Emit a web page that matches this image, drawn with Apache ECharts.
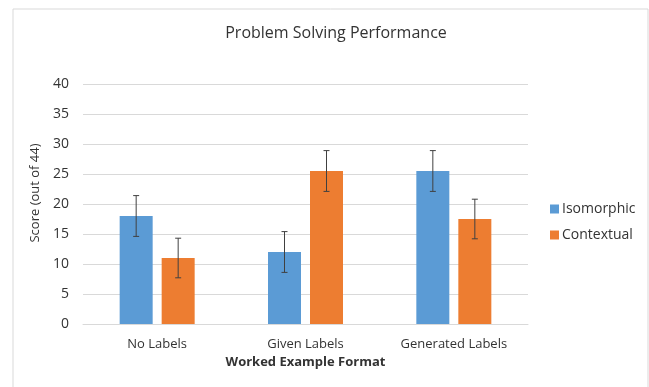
<!DOCTYPE html>
<html>
<head>
<meta charset="utf-8">
<script src="https://cdn.jsdelivr.net/npm/echarts@6/dist/echarts.min.js"></script>
<style>
  html, body { margin: 0; padding: 0; background: #fff; }
  #chart { width: 649px; height: 387px; }
</style>
</head>
<body>
<div id="chart"></div>
<script>
// data
var categories = ['No Labels', 'Given Labels', 'Generated Labels'];
var isomorphic = [18, 12, 25.5];
var contextual = [11, 25.5, 17.5];
var isoErr = [3.4, 3.4, 3.4];
var ctxErr = [3.3, 3.4, 3.3];
var yTicks = [0, 5, 10, 15, 20, 25, 30, 35, 40];

var BAR_W = 33, BAR_GAP = 9;
var font = '"Open Sans", "Noto Sans", sans-serif';
var txt = '#333333';

function errorSeries(vals, errs, side) {
    // side -1 = left bar, +1 = right bar
    var data = vals.map(function (v, i) { return [i, v - errs[i], v + errs[i]]; });
    return {
        type: 'custom',
        silent: true,
        z: 10,
        data: data,
        renderItem: function (params, api) {
            var i = api.value(0);
            var lo = api.coord([i, api.value(1)]);
            var hi = api.coord([i, api.value(2)]);
            var x = lo[0] + side * (BAR_W + BAR_GAP) / 2;
            var cap = 3;
            var st = { stroke: '#404040', lineWidth: 1 };
            return {
                type: 'group',
                children: [
                    { type: 'line', shape: { x1: x, y1: hi[1], x2: x, y2: lo[1] }, style: st },
                    { type: 'line', shape: { x1: x - cap, y1: hi[1], x2: x + cap, y2: hi[1] }, style: st },
                    { type: 'line', shape: { x1: x - cap, y1: lo[1], x2: x + cap, y2: lo[1] }, style: st }
                ]
            };
        }
    };
}

var chart = echarts.init(document.getElementById('chart'));
var option = {
    animation: false,
    textStyle: { fontFamily: font },
    title: {
        text: 'Problem Solving Performance',
        left: 331,
        textAlign: 'center',
        top: 20,
        textStyle: { fontFamily: font, fontSize: 16, fontWeight: 'normal', color: txt }
    },
    graphic: [{
        type: 'rect',
        z: -1,
        shape: { x: 13, y: 9, width: 635, height: 400 },
        style: { fill: 'none', stroke: '#d9d9d9', lineWidth: 1 }
    }],
    legend: {
        orient: 'vertical',
        left: 545,
        top: 197,
        itemWidth: 9,
        itemHeight: 9,
        itemGap: 12,
        icon: 'rect',
        textStyle: { fontFamily: font, fontSize: 14, color: txt, padding: [0, 0, 0, -2] },
        data: ['Isomorphic', 'Contextual']
    },
    grid: { left: 83, right: 121, top: 84, bottom: 63 },
    xAxis: {
        type: 'category',
        data: categories,
        name: 'Worked Example Format',
        nameLocation: 'middle',
        nameGap: 30,
        nameTextStyle: { fontFamily: font, fontSize: 13, fontWeight: 'bold', color: txt },
        axisLine: { lineStyle: { color: '#d9d9d9' } },
        axisTick: { show: false },
        axisLabel: { fontFamily: font, fontSize: 13, color: txt, margin: 14 }
    },
    yAxis: {
        type: 'value',
        min: 0,
        max: 40,
        interval: 5,
        name: 'Score (out of 44)',
        nameLocation: 'middle',
        nameGap: 36,
        nameTextStyle: { fontFamily: font, fontSize: 13, color: txt, padding: [0, 0, 0, 22] },
        axisLine: { show: false },
        axisTick: { show: false },
        splitLine: { lineStyle: { color: '#d9d9d9' } },
        axisLabel: {
            fontFamily: font, fontSize: 14, color: txt, margin: 14,
            formatter: function (v) { return yTicks.indexOf(v) >= 0 ? String(v) : ''; }
        }
    },
    series: [
        {
            name: 'Isomorphic', type: 'bar', data: isomorphic,
            barWidth: BAR_W, barGap: (BAR_GAP / BAR_W * 100) + '%',
            itemStyle: { color: '#5B9BD5' }
        },
        {
            name: 'Contextual', type: 'bar', data: contextual,
            barWidth: BAR_W,
            itemStyle: { color: '#ED7D31' }
        },
        errorSeries(isomorphic, isoErr, -1),
        errorSeries(contextual, ctxErr, 1)
    ]
};
chart.setOption(option);
</script>
</body>
</html>
